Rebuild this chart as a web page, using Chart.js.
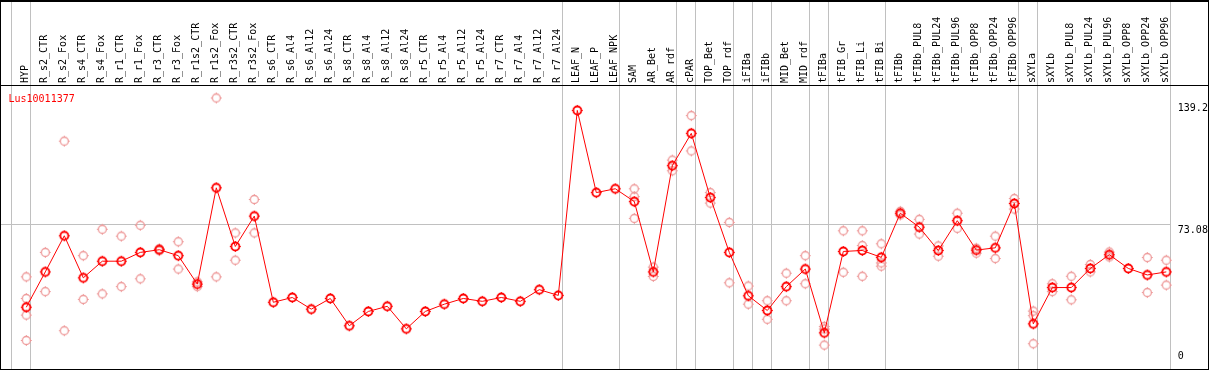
<!DOCTYPE html>
<html><head><meta charset="utf-8">
<script src="https://cdn.jsdelivr.net/npm/chart.js@4/dist/chart.umd.min.js"></script>
<style>html,body{margin:0;padding:0;background:#fff;overflow:hidden;} canvas{display:block;}</style>
</head><body>
<canvas id="c" width="1209" height="370"></canvas>
<script>
const categories = ['HYP','R_s2_CTR','R_s2_Fox','R_s4_CTR','R_s4_Fox','R_r1_CTR','R_r1_Fox','R_r3_CTR','R_r3_Fox','R_r1s2_CTR','R_r1s2_Fox','R_r3s2_CTR','R_r3s2_Fox','R_s6_CTR','R_s6_Al4','R_s6_Al12','R_s6_Al24','R_s8_CTR','R_s8_Al4','R_s8_Al12','R_s8_Al24','R_r5_CTR','R_r5_Al4','R_r5_Al12','R_r5_Al24','R_r7_CTR','R_r7_Al4','R_r7_Al12','R_r7_Al24','LEAF_N','LEAF_P','LEAF_NPK','SAM','AR_Bet','AR_rdf','cPAR','TOP_Bet','TOP_rdf','iFIBa','iFIBb','MID_Bet','MID_rdf','tFIBa','tFIB_Gr','tFIB_Li','tFIB_Bi','tFIBb','tFIBb_PUL8','tFIBb_PUL24','tFIBb_PUL96','tFIBb_OPP8','tFIBb_OPP24','tFIBb_OPP96','sXYLa','sXYLb','sXYLb_PUL8','sXYLb_PUL24','sXYLb_PUL96','sXYLb_OPP8','sXYLb_OPP24','sXYLb_OPP96'];

const meanValues = [29.7,48.2,67.1,45.1,53.8,53.8,58.4,59.8,56.7,41.8,92.2,61.5,77.4,32.3,34.8,28.7,34.3,20.0,27.5,30.2,18.4,27.5,31.3,34.3,32.8,34.8,32.8,38.9,35.9,132.7,89.7,91.7,85.0,48.2,103.8,120.7,87.1,58.4,35.7,28.0,40.5,49.7,16.3,58.9,59.4,55.8,78.9,71.6,59.4,75.0,59.6,60.8,84.0,21.0,40.0,40.0,50.0,57.2,50.0,46.6,48.2];

const repHigh = [45.6,58.4,116.6,56.7,70.5,66.9,72.6,60.3,64.0,43.0,139.2,68.6,86.1,null,null,null,null,null,null,null,null,null,null,null,null,null,null,null,null,null,null,null,91.7,50.7,106.7,130.0,89.7,74.1,40.8,33.1,47.5,56.7,19.6,69.7,69.7,62.9,79.9,75.7,61.8,78.9,60.6,66.9,86.6,27.7,42.0,45.9,52.1,58.6,null,55.7,54.3];

const repLow = [12.3,37.9,17.4,33.8,36.7,40.5,44.6,59.3,49.7,40.5,45.6,54.3,68.6,null,null,null,null,null,null,null,null,null,null,null,null,null,null,null,null,null,null,null,76.2,45.8,101.1,111.5,84.2,42.5,31.3,23.4,33.1,42.0,9.9,48.0,45.9,51.2,78.0,68.0,56.4,71.0,58.0,55.2,81.1,10.6,37.9,33.6,48.2,56.0,null,37.4,41.3];

const repThird = [34.3,null,null,null,null,null,null,null,null,null,null,null,null,null,null,null,null,null,null,null,null,null,null,null,null,null,null,null,null,null,null,null,87.6,null,null,null,null,null,null,null,null,null,18.3,null,62.0,52.9,null,null,null,null,null,null,null,25.3,null,null,null,null,null,null,null];

const repFourth = [25.6,null,null,null,null,null,null,null,null,null,null,null,null,null,null,null,null,null,null,null,null,null,null,null,null,null,null,null,null,null,null,null,null,null,null,null,null,null,null,null,null,null,null,null,null,null,null,null,null,null,null,null,null,null,null,null,null,null,null,null,null];

const yTickValues = [0, 73.08, 139.2];
const yTickLabels = ['0', '73.08', '139.2'];
const geneName = 'Lus10011377';
const groupBreaksAfter = [-1, 0, 28, 31, 34, 35, 37, 38, 39, 41, 42, 45, 52, 53, 60];

function makeMarker(color, lw) {
  const c = document.createElement('canvas');
  c.width = 13; c.height = 13;
  const g = c.getContext('2d');
  g.strokeStyle = color;
  g.lineWidth = lw;
  g.beginPath(); g.arc(6.5, 6.5, 4, 0, Math.PI * 2); g.stroke();
  g.lineWidth = 1;
  g.beginPath();
  g.moveTo(6.5, 1); g.lineTo(6.5, 2.6);
  g.moveTo(6.5, 10.4); g.lineTo(6.5, 12);
  g.moveTo(1, 6.5); g.lineTo(2.6, 6.5);
  g.moveTo(10.4, 6.5); g.lineTo(12, 6.5);
  g.stroke();
  return c;
}
const mainMarker = makeMarker('#FF0000', 1.8);
const repMarker = makeMarker('#EE9A9A', 1.3);

const framePlugin = {
  id: 'frame',
  beforeDatasetsDraw(chart) {
    const ctx = chart.ctx, xs = chart.scales.x, ys = chart.scales.y;
    const step = xs.getPixelForValue(1) - xs.getPixelForValue(0);
    ctx.save();
    ctx.fillStyle = '#C0C0C0';
    groupBreaksAfter.forEach(b => {
      const px = Math.round(xs.getPixelForValue(0) + (b + 0.226) * step - 0.5);
      ctx.fillRect(px, 0, 1, chart.height);
    });
    const gy = Math.round(ys.getPixelForValue(yTickValues[1]) - 0.5);
    const rx = Math.round(xs.getPixelForValue(0) + (60 + 0.226) * step - 0.5);
    ctx.fillRect(0, gy, rx, 1);
    ctx.restore();
  },
  afterDraw(chart) {
    const ctx = chart.ctx, ys = chart.scales.y, ca = chart.chartArea;
    ctx.save();
    ctx.fillStyle = '#000';
    ctx.fillRect(0, 0, chart.width, 2);
    ctx.fillRect(0, 85, chart.width, 1);
    ctx.fillRect(0, chart.height - 1, chart.width, 1);
    ctx.fillRect(0, 0, 1, chart.height);
    ctx.fillRect(chart.width - 1, 0, 1, chart.height);
    ctx.font = '10px "DejaVu Sans Mono"';
    ctx.textAlign = 'left';
    ctx.textBaseline = 'alphabetic';
    yTickValues.forEach((v, i) => {
      const py = ys.getPixelForValue(v);
      let by;
      if (v === ys.min || v === 0) by = py - 5;
      else if (i === yTickValues.length - 1) by = py + 12.7;
      else by = py + 8.7;
      ctx.fillText(yTickLabels[i], ca.right + 11.5, by);
    });
    ctx.fillStyle = '#FF0000';
    ctx.fillText(geneName, 8.5, 102);
    ctx.restore();
  }
};

const repDs = (arr) => ({
  data: arr, showLine: false, pointStyle: repMarker, pointRadius: 5,
  borderColor: '#EE9A9A', backgroundColor: 'transparent', clip: false
});

new Chart(document.getElementById('c'), {
  type: 'line',
  data: {
    labels: categories,
    datasets: [
      { data: meanValues, borderColor: '#FF0000', borderWidth: 1, pointStyle: mainMarker,
        pointRadius: 5, backgroundColor: 'transparent', tension: 0, clip: false },
      repDs(repHigh), repDs(repLow), repDs(repThird), repDs(repFourth)
    ]
  },
  options: {
    responsive: false,
    animation: false,
    devicePixelRatio: 1,
    layout: { padding: { left: 26.3, right: 42.7, top: 0, bottom: 0 } },
    plugins: { legend: { display: false }, tooltip: { enabled: false } },
    scales: {
      x: {
        type: 'category', position: 'top', offset: false,
        grid: { display: false, drawTicks: false }, border: { display: false },
        ticks: { autoSkip: false, minRotation: 90, maxRotation: 90, padding: 2, labelOffset: 11,
                 color: '#000', font: { family: 'DejaVu Sans Mono', size: 10 } },
        afterFit: (s) => { s.height = 85; }
      },
      y: { display: false, min: 0, max: 146 }
    }
  },
  plugins: [framePlugin]
});
</script>
</body></html>
